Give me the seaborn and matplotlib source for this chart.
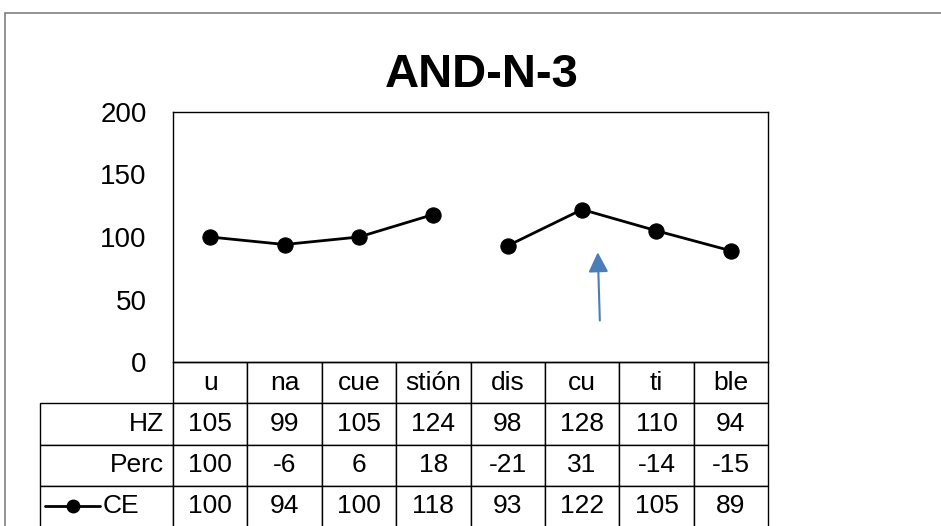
import numpy as np
import pandas as pd
import matplotlib
matplotlib.use("Agg")
import matplotlib.pyplot as plt
import seaborn as sns
from matplotlib.table import Table
from matplotlib.patches import Rectangle

# data
syllables = ['u', 'na', 'cue', 'stión', 'dis', 'cu', 'ti', 'ble']
hz = [105, 99, 105, 124, 98, 128, 110, 94]
perc = [100, -6, 6, 18, -21, 31, -14, -15]
ce = [100, 94, 100, 118, 93, 122, 105, 89]
segment = [1, 1, 1, 1, 2, 2, 2, 2]   # line breaks between stión and dis

title = 'AND-N-3'
arrow_x = 5.24
arrow_from = 31
arrow_to = 90

df = pd.DataFrame({'pos': np.arange(len(syllables)), 'CE': ce, 'seg': segment})

sns.set_style('white')
plt.rcParams['font.family'] = ['Liberation Sans', 'DejaVu Sans']
plt.rcParams['text.color'] = 'black'
plt.rcParams['ytick.color'] = 'black'
plt.rcParams['ytick.labelcolor'] = 'black'

fig = plt.figure(figsize=(9.41, 5.26), dpi=100)
ax = fig.add_axes([173/941, 1 - 362/526, 595/941, 250/526])

sns.lineplot(data=df, x='pos', y='CE', units='seg', estimator=None, color='black',
             linewidth=2, marker='o', markersize=11, markeredgecolor='black', ax=ax)

ax.set_xlim(-0.5, len(syllables) - 0.5)
ax.set_ylim(0, 200)
ax.set_yticks([0, 50, 100, 150, 200])
ax.set_xticks([])
ax.set_xlabel('')
ax.set_ylabel('')
ax.tick_params(axis='y', length=0, pad=19, labelsize=20)
for s in ax.spines.values():
    s.set_color('black')
    s.set_linewidth(1)

# blue arrow
ax.annotate('', xy=(arrow_x - 0.03, arrow_to), xytext=(arrow_x, arrow_from),
            arrowprops=dict(arrowstyle='-|>', color='#4a7ebb', lw=1.5, mutation_scale=30))

fig.text(482/941, 1 - 75/526, title, ha='center', va='center', fontsize=34, fontweight='bold')

# data table below the axes
label_w = 133
col_w = 595 / len(syllables)
total_w = label_w + 595
tb = Table(ax, bbox=[-label_w/595, -165/250, total_w/595, 165/250])
rows = [('', syllables), ('HZ', hz), ('Perc', perc), ('', ce)]
for r, (lab, vals) in enumerate(rows):
    c0 = tb.add_cell(r, 0, width=label_w/total_w, height=0.25, text=lab, loc='right')
    if r == 0:
        c0.visible_edges = ''
    for c, v in enumerate(vals):
        tb.add_cell(r, c + 1, width=col_w/total_w, height=0.25, text=str(v), loc='center')
tb.auto_set_font_size(False)
tb.set_fontsize(19)
for cell in tb.get_celld().values():
    cell.set_linewidth(1)
    cell.set_edgecolor('black')
    cell.PAD = 0.07
ax.add_table(tb)

# legend key inside the CE row
ax.plot([-0.215, -0.122], [-0.576, -0.576], transform=ax.transAxes, clip_on=False,
        color='black', linewidth=2)
ax.plot([-0.1685], [-0.576], transform=ax.transAxes, clip_on=False,
        color='black', marker='o', markersize=9)
ax.text(-0.118, -0.576, 'CE', transform=ax.transAxes, ha='left', va='center', fontsize=19)

# outer chart border
fig.patches.append(Rectangle((5/941, -0.1), 1.2, 1.1 - 13/526, transform=fig.transFigure,
                             fill=False, edgecolor='#808080', linewidth=1.2))

fig.savefig('out.png', dpi=100)
